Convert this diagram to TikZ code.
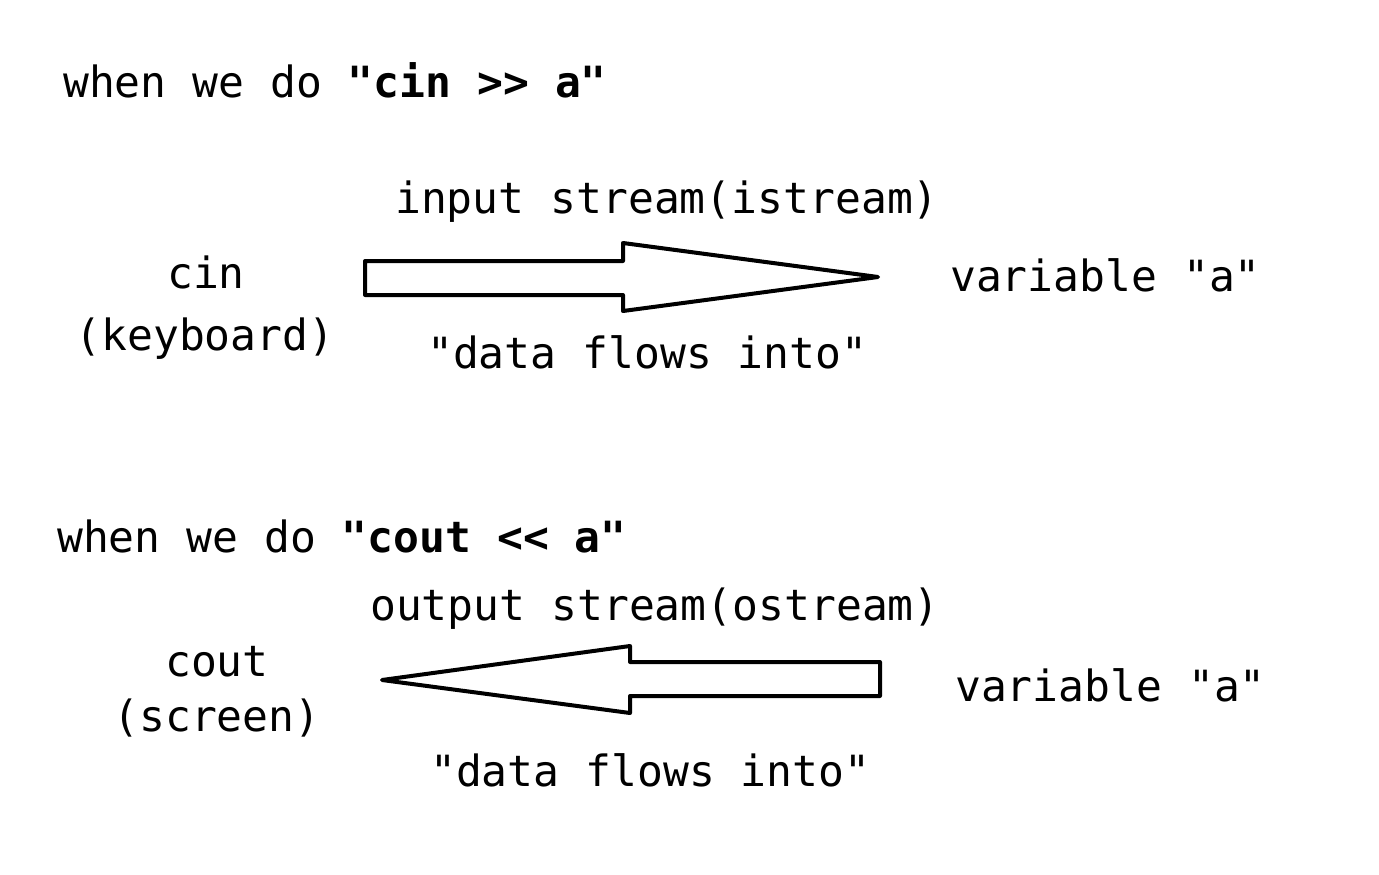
\documentclass[tikz,border=0pt]{standalone}
\usepackage{fontspec}
\setmonofont{DejaVu Sans Mono}
\begin{document}
\begin{tikzpicture}[x=1pt,y=-1pt,
  lbl/.style={inner sep=0pt,font=\ttfamily\fontsize{43}{50}\selectfont},
  bigarrow/.style={draw=black,line width=4pt,line join=round,fill=white}]
\useasboundingbox (0,0) rectangle (1379,875);

% --- cin >> a ---
\node[lbl,anchor=base west] (t1) at (63,97) {when we do \textbf{"cin >> a"}};
\node[lbl,anchor=base west] (s1) at (395,213) {input stream(istream)};
\node[lbl,anchor=base] (cin) at (206,288) {cin};
\node[lbl,anchor=base] (kb) at (205,350) {(keyboard)};
\node[lbl,anchor=base west] (v1) at (950,291) {variable "a"};
\node[lbl,anchor=base west] (d1) at (427,368) {"data flows into"};
\draw[bigarrow] (365,261) -- (623,261) -- (623,243) -- (878,277)
  -- (623,311) -- (623,295) -- (365,295) -- cycle;

% --- cout << a ---
\node[lbl,anchor=base west] (t2) at (57,552) {when we do \textbf{"cout << a"}};
\node[lbl,anchor=base west] (s2) at (370,620) {output stream(ostream)};
\node[lbl,anchor=base] (cout) at (217,676) {cout};
\node[lbl,anchor=base] (scr) at (217,731) {(screen)};
\node[lbl,anchor=base west] (v2) at (955,701) {variable "a"};
\node[lbl,anchor=base west] (d2) at (430,786) {"data flows into"};
\draw[bigarrow] (880,662) -- (630,662) -- (630,646) -- (382,680)
  -- (630,713) -- (630,696) -- (880,696) -- cycle;
\end{tikzpicture}
\end{document}
